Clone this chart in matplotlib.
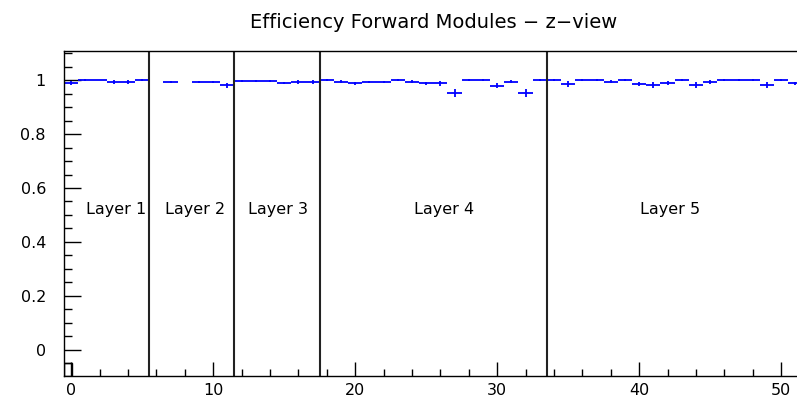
import numpy as np
import matplotlib
matplotlib.use("Agg")
import matplotlib.pyplot as plt
from matplotlib.ticker import MultipleLocator, FuncFormatter

# ---- data ----
module = np.arange(52)
efficiency = [0.990, 1.000, 1.000, 0.993, 0.993, 1.000,
              np.nan, 0.994, np.nan, 0.994, 0.994, 0.981,
              0.996, 0.996, 0.996, 0.988, 0.993, 0.993,
              1.000, 0.994, 0.988, 0.993, 0.993, 1.002, 0.994, 0.988,
              0.988, 0.951, 1.000, 1.000, 0.980, 0.994, 0.951, 1.000,
              1.000, 0.985, 1.000, 1.000, 0.994, 1.001, 0.985, 0.981,
              0.988, 1.000, 0.981, 0.993, 1.000, 1.000, 1.000, 0.981,
              1.000, 0.988]
eff_error = [0.008, 0.003, 0.000, 0.006, 0.006, 0.003,
             0.000, 0.004, 0.000, 0.004, 0.004, 0.009,
             0.004, 0.004, 0.004, 0.004, 0.008, 0.008,
             0.004, 0.005, 0.005, 0.005, 0.005, 0.004, 0.005, 0.006,
             0.008, 0.015, 0.003, 0.004, 0.011, 0.006, 0.015, 0.004,
             0.004, 0.012, 0.003, 0.003, 0.006, 0.005, 0.007, 0.012,
             0.007, 0.003, 0.012, 0.007, 0.004, 0.003, 0.004, 0.012,
             0.004, 0.006]
layer_boundaries = [5.5, 11.5, 17.5, 33.5]
layer_names = ["Layer 1", "Layer 2", "Layer 3", "Layer 4", "Layer 5"]
layer_label_x = [3.2, 8.7, 14.6, 26.3, 42.2]
layer_label_y = 0.52
artifact_x = [-0.5]
artifact_w = [0.55]
artifact_h = [0.048]
title = "Efficiency Forward Modules \u2212 z\u2212view"

W, H = 797, 399
fig = plt.figure(figsize=(W / 100, H / 100), dpi=100)
plt.rcParams['font.family'] = ['DejaVu Sans']
xmin, xmax = -0.5, 51.5
ymin, ymax = -0.097, 1.108
left_px, bottom_px, top_px = 64, 376, 51
px_per_unit = 14.2
ax = fig.add_axes([left_px / W, (H - bottom_px) / H,
                   (xmax - xmin) * px_per_unit / W, (bottom_px - top_px) / H])
ax.set_xlim(xmin, xmax)
ax.set_ylim(ymin, ymax)

ax.errorbar(module, efficiency, xerr=0.5, yerr=eff_error, fmt='none',
            ecolor='#0000ff', elinewidth=1.3, capsize=0)

ax.bar(artifact_x, artifact_h, width=artifact_w, bottom=ymin, align='edge',
       fill=False, edgecolor='black', linewidth=1.0)

for xb in layer_boundaries:
    ax.axvline(xb, color='#222222', linewidth=1.5)

for name, lx in zip(layer_names, layer_label_x):
    ax.text(lx, layer_label_y, name, ha='center', va='center', fontsize=11.5,
            color='black')

fig.text((left_px + (xmax - xmin) * px_per_unit / 2) / W, 1 - 22 / H, title,
         ha='center', va='center', fontsize=14)

for s in ['top', 'right', 'left', 'bottom']:
    ax.spines[s].set_linewidth(1.0)

ax.xaxis.set_major_locator(MultipleLocator(10))
ax.xaxis.set_minor_locator(MultipleLocator(2))
ax.yaxis.set_major_locator(MultipleLocator(0.2))
ax.yaxis.set_minor_locator(MultipleLocator(0.05))
ax.yaxis.set_major_formatter(FuncFormatter(lambda v, p: ('%g' % round(v, 2))))
ax.tick_params(axis='both', which='both', direction='in', top=False, right=False,
               labelsize=11.5)
ax.tick_params(axis='y', which='major', length=12, width=1.0, pad=13)
ax.tick_params(axis='y', which='minor', length=6, width=1.0)
ax.tick_params(axis='x', which='major', length=10, width=1.0, pad=5)
ax.tick_params(axis='x', which='minor', length=5, width=1.0)

fig.savefig("out.png", dpi=100)
